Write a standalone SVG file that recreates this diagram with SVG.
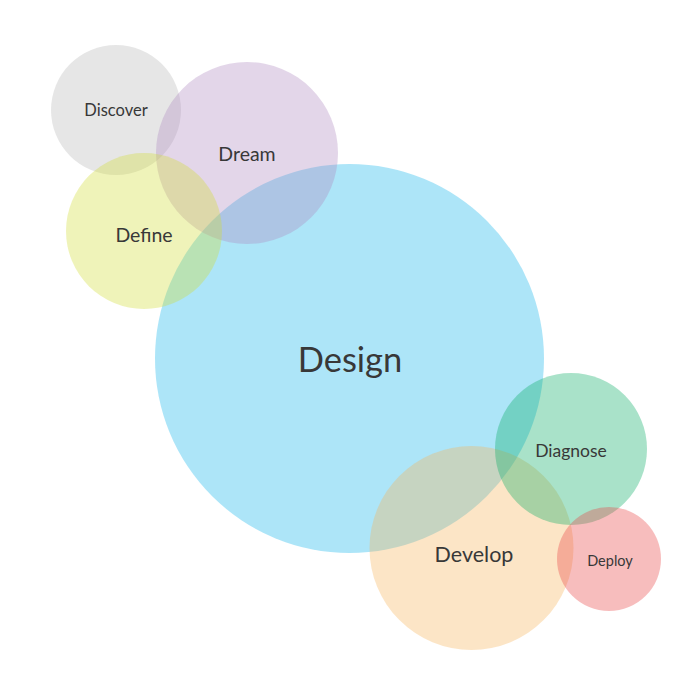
<svg xmlns="http://www.w3.org/2000/svg" width="700" height="700" viewBox="0 0 700 700">
<style>
.b{fill-opacity:0.35}
.t{font-family:Lato,"Noto Sans","Liberation Sans",sans-serif;fill:#383838;text-anchor:middle}
</style>
<rect width="700" height="700" fill="#ffffff"/>
<g id="design"><circle class="b" cx="349.5" cy="358.5" r="194.5" fill="#15b5eb"/></g>
<g id="develop"><circle class="b" cx="471.5" cy="548" r="102" fill="#f6b55c"/></g>
<g id="diagnose"><circle class="b" cx="571" cy="449" r="76" fill="#09ac65"/></g>
<g id="deploy"><circle class="b" cx="609" cy="559" r="52" fill="#e84242"/></g>
<g id="discover"><circle class="b" cx="116" cy="110" r="65" fill="#b8b8b8"/></g>
<g id="dream"><circle class="b" cx="247" cy="153" r="91" fill="#af8ac0"/></g>
<g id="define"><circle class="b" cx="144" cy="231" r="78" fill="#d1dd37"/></g>
<g id="labels">
<text class="t" x="116" y="116" font-size="16.5">Discover</text>
<text class="t" x="247" y="161" font-size="19.5">Dream</text>
<text class="t" x="144" y="242" font-size="19.5">Define</text>
<text class="t" x="350" y="372" font-size="34.5" fill="#2e3d48">Design</text>
<text class="t" x="571" y="457" font-size="17.5">Diagnose</text>
<text class="t" x="474" y="562" font-size="21.5">Develop</text>
<text class="t" x="610" y="566" font-size="14.5">Deploy</text>
</g>
<g id="connectors"/>
</svg>
